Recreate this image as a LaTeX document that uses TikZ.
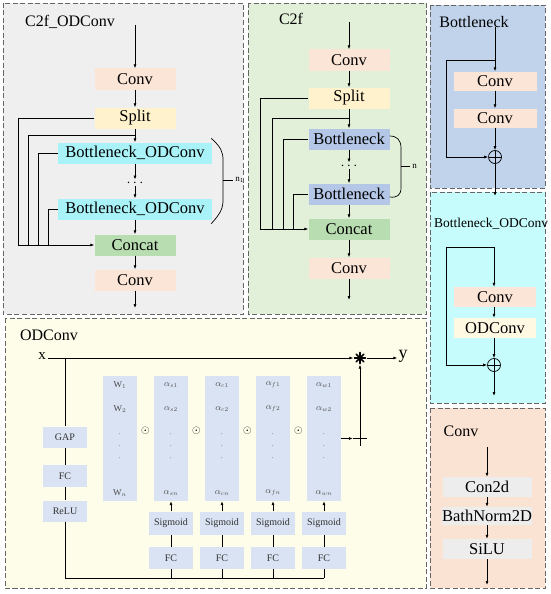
\documentclass[tikz,border=0pt]{standalone}
\usepackage{fontspec}
\setmainfont{Liberation Serif}
\usetikzlibrary{arrows.meta, positioning, calc}

\definecolor{convc}{HTML}{FBE5D6}
\definecolor{splitc}{HTML}{FFF2CC}
\definecolor{bodc}{HTML}{A8F2F8}
\definecolor{catc}{HTML}{B8DDB0}
\definecolor{bneckc}{HTML}{B4C7E7}
\definecolor{odc}{HTML}{FFF9E3}
\definecolor{grayc}{HTML}{EDEDED}
\definecolor{lbluec}{HTML}{DAE3F3}
\definecolor{bgone}{HTML}{EFEFEF}
\definecolor{bgtwo}{HTML}{E2F0D9}
\definecolor{bgthree}{HTML}{C0D3EB}
\definecolor{bgfour}{HTML}{C6FCFC}
\definecolor{bgfive}{HTML}{FDFDEA}
\definecolor{bgsix}{HTML}{FBE3D4}

\begin{document}
\begin{tikzpicture}[x=1pt, y=-1pt,
    panel/.style={draw=black!60, dash pattern=on 5pt off 2.5pt, line width=0.9pt},
    title/.style={font=\fontsize{16}{16}\selectfont, inner sep=1pt},
    blk/.style={minimum width=81pt, minimum height=21pt, inner sep=0pt,
                font=\fontsize{16.5}{16.5}\selectfont},
    sblk/.style={fill=lbluec, minimum width=44pt, minimum height=22pt,
                 inner sep=0pt, font=\fontsize{10}{10}\selectfont, text=black!80},
    col/.style={fill=lbluec, minimum width=34pt, minimum height=125pt, inner sep=0pt},
    ent/.style={font=\fontsize{9}{9}\selectfont, text=black!70, inner sep=0pt},
    dotn/.style={font=\fontsize{15}{15}\selectfont, inner sep=0pt, minimum height=6pt},
    sumc/.style={circle, draw, line width=0.7pt, minimum size=13pt, inner sep=0pt,
                 path picture={\draw[line width=0.7pt]
                   (path picture bounding box.north) -- (path picture bounding box.south)
                   (path picture bounding box.west) -- (path picture bounding box.east);}},
    plusn/.style={minimum size=14pt, inner sep=0pt,
                  path picture={\draw[line width=1pt]
                   (path picture bounding box.north) -- (path picture bounding box.south)
                   (path picture bounding box.west) -- (path picture bounding box.east);}},
    starn/.style={minimum size=13pt, inner sep=0pt,
                  path picture={\foreach \a in {0,45,...,135}
                    \draw[line width=1.7pt, line cap=round]
                      (path picture bounding box.center) ++(\a:5.5pt) -- ++(\a+180:11pt);}},
    arr/.style={-{Latex[length=4pt,width=3pt]}, line width=0.7pt},
    ln/.style={line width=0.7pt}
  ]
  \useasboundingbox (0,0) rectangle (550,594);

  % panels
  \draw[panel, fill=bgone] (3,3) rectangle (243,314);
  \draw[panel, fill=bgtwo] (248,3) rectangle (426,314);
  \draw[panel, fill=bgthree] (430,5) rectangle (545,188);
  \draw[panel, fill=bgfour] (430,192) rectangle (545,403);
  \draw[panel, fill=bgfive] (5,318) rectangle (426,588);
  \draw[panel, fill=bgsix] (430,408) rectangle (545,588);

  % C2f_ODConv
  \node[title] (t1) at (70,22) {C2f\_ODConv};
  \coordinate (a0) at (135,25);
  \node[blk, fill=convc] (a1) at (135,79) {Conv};
  \node[blk, fill=splitc] (a2) at (135,118) {Split};
  \node[blk, fill=bodc, minimum width=154pt] (a3) at (135,153) {Bottleneck\_ODConv};
  \node[dotn] (ad) at (135,183) {$\cdots$};
  \node[blk, fill=bodc, minimum width=154pt] (a4) at (135,209) {Bottleneck\_ODConv};
  \node[blk, fill=catc] (a5) at (135,245) {Concat};
  \node[blk, fill=convc] (a6) at (135,280) {Conv};
  \coordinate (a7) at (135,308);
  \coordinate (aj) at ($(a2.south)!0.5!(a3.north)$);
  \draw[arr] (a0) -- (a1);
  \draw[arr] (a1) -- (a2);
  \draw[arr] (a2) -- (a3);
  \draw[arr] (a3) -- (ad);
  \draw[arr] (ad) -- (a4);
  \draw[arr] (a4) -- (a5);
  \draw[arr] (a5) -- (a6);
  \draw[arr] (a6) -- (a7);
  \coordinate (ab1) at (18,245);
  \coordinate (ab2) at (28,245);
  \coordinate (ab3) at (38,245);
  \coordinate (ab4) at (48,245);
  \draw[arr] (a2.west) -| (ab1) -- (a5.west);
  \draw[ln] (aj) -| (ab2);
  \draw[ln] (a3.west) -| (ab3);
  \draw[ln] (a4.west) -| (ab4);
  \draw[ln] ($(a3.north east)+(-1,-4)$) .. controls (221,147) and (223,152) .. (223,160)
    -- (223,200) .. controls (223,208) and (221,213) .. ($(a4.south east)+(-1,4)$);
  \draw[ln] (223,180) -- (233,180) node[right, inner sep=2pt, font=\fontsize{9}{9}\selectfont] {n$_1$};

  % C2f
  \node[title] (t2) at (291,19) {C2f};
  \coordinate (b0) at (349,22);
  \node[blk, fill=convc] (b1) at (349,60) {Conv};
  \node[blk, fill=splitc] (b2) at (349,98) {Split};
  \node[blk, fill=bneckc] (b3) at (349,139) {Bottleneck};
  \node[dotn] (bd) at (349,166) {$\cdots$};
  \node[blk, fill=bneckc] (b4) at (349,194) {Bottleneck};
  \node[blk, fill=catc] (b5) at (349,229) {Concat};
  \node[blk, fill=convc] (b6) at (349,268) {Conv};
  \coordinate (b7) at (349,300);
  \coordinate (bj) at ($(b2.south)!0.5!(b3.north)$);
  \draw[arr] (b0) -- (b1);
  \draw[arr] (b1) -- (b2);
  \draw[arr] (b2) -- (b3);
  \draw[arr] (b3) -- (bd);
  \draw[arr] (bd) -- (b4);
  \draw[arr] (b4) -- (b5);
  \draw[arr] (b5) -- (b6);
  \draw[arr] (b6) -- (b7);
  \coordinate (bb1) at (260,229);
  \coordinate (bb2) at (272,229);
  \coordinate (bb3) at (283,229);
  \coordinate (bb4) at (293,229);
  \draw[arr] (b2.west) -| (bb1) -- (b5.west);
  \draw[ln] (bj) -| (bb2);
  \draw[ln] (b3.west) -| (bb3);
  \draw[ln] (b4.west) -| (bb4);
  \draw[ln] ($(b3.east)+(0,-3)$) .. controls (397,136) and (401,140) .. (401,148)
    -- (401,188) .. controls (401,195) and (397,198) .. ($(b4.east)+(0,3)$);
  \draw[ln] (401,166) -- (410,166) node[right, inner sep=2pt, font=\fontsize{9}{9}\selectfont] {n};

  % Bottleneck
  \node[title] (t3) at (474,22) {Bottleneck};
  \coordinate (c0) at (495,27);
  \node[blk, fill=convc, minimum width=83pt, minimum height=19pt] (c1) at (495,81) {Conv};
  \node[blk, fill=convc, minimum width=83pt, minimum height=19pt] (c2) at (495,118) {Conv};
  \node[sumc] (c3) at (495,157) {};
  \coordinate (c4) at (495,196);
  \coordinate (cj) at (495,60);
  \coordinate (cl) at (446,157);
  \draw[arr] (c0) -- (c1);
  \draw[arr] (c1) -- (c2);
  \draw[arr] (c2) -- (c3);
  \draw[arr] (c3) -- (c4);
  \draw[arr] (cj) -| (cl) -- (c3.west);

  % Bottleneck_ODConv
  \node[title, font=\fontsize{13.5}{13.5}\selectfont] (t4) at (491,224) {Bottleneck\_ODConv};
  \coordinate (e0) at (494,247);
  \node[blk, fill=convc, minimum width=82pt, minimum height=20pt] (e1) at (495,297) {Conv};
  \node[blk, fill=odc, minimum width=82pt, minimum height=20pt] (e2) at (495,328) {ODConv};
  \node[sumc] (e3) at (494,365) {};
  \coordinate (e4) at (494,396);
  \coordinate (el) at (446,365);
  \draw[arr] (e0) -- (e1.north -| e0);
  \draw[arr] (e1.south -| e0) -- (e2.north -| e0);
  \draw[arr] (e2.south -| e0) -- (e3);
  \draw[arr] (e3) -- (e4);
  \draw[arr] (e0) -- (446,247) -- (el) -- (e3.west);

  % Conv
  \node[title] (t6) at (461,431) {Conv};
  \coordinate (g0) at (487,447);
  \node[blk, fill=grayc, minimum width=89pt, minimum height=20pt] (g1) at (487,487) {Con2d};
  \node[blk, fill=grayc, minimum width=89pt, minimum height=18pt] (g2) at (487,516) {BathNorm2D};
  \node[blk, fill=grayc, minimum width=89pt, minimum height=20pt] (g3) at (487,549) {SiLU};
  \coordinate (g4) at (487,585);
  \draw[arr] (g0) -- (g1);
  \draw[arr] (g1) -- (g2);
  \draw[arr] (g2) -- (g3);
  \draw[arr] (g3) -- (g4);

  % ODConv
  \node[title] (t5) at (49,335) {ODConv};
  \node[font=\fontsize{15}{15}\selectfont, inner sep=2pt] (xn) at (42,356) {x};
  \node[starn] (st) at (360,358) {};
  \node[font=\fontsize{18}{18}\selectfont, inner sep=1pt] (yn) at (403,356) {y};
  \draw[arr] (xn.east |- st) -- (st.west);
  \draw[arr] (st.east) -- (yn.west |- st);
  \coordinate (xj) at (65,358);
  \node[sblk, minimum height=21pt] (h1) at (65,437) {GAP};
  \node[sblk] (h2) at (65,476) {FC};
  \node[sblk, minimum height=21pt] (h3) at (65,511) {ReLU};
  \coordinate (bl) at (65,578);
  \draw[ln] (xj) -- (h1);
  \draw[ln] (h1) -- (h2);
  \draw[ln] (h2) -- (h3);
  \foreach \i/\b/\t in {0/\mathrm{W}/, 1/\alpha/s, 2/\alpha/c, 3/\alpha/f, 4/\alpha/w} {
    \node[col] (k\i) at (120+51*\i,438.5) {};
    \node[ent] at (120+51*\i,385) {$\b_{\t1}$};
    \node[ent] at (120+51*\i,409) {$\b_{\t2}$};
    \foreach \y in {434,446,458}
      \node[ent] at (120+51*\i,\y) {$\cdot$};
    \node[ent] at (120+51*\i,493) {$\b_{\t n}$};
  }
  \foreach \i in {1,...,4} {
    \node[font=\fontsize{11}{11}\selectfont, inner sep=0pt] (o\i) at (94.5+51*\i,431) {$\odot$};
    \node[sblk, minimum height=23pt] (m\i) at (120+51*\i,523) {Sigmoid};
    \node[sblk] (f\i) at (120+51*\i,558) {FC};
    \draw[arr] (m\i) -- (k\i);
    \draw[ln] (f\i) -- (m\i);
    \draw[ln] (f\i.south) -- (f\i.south |- bl);
  }
  \draw[ln] (h3.south) -- (bl) -- (bl -| f4.south);
  \node[plusn] (pl) at (360,438.5) {};
  \draw[arr] (k4.east) -- (pl.west);
  \draw[arr] (pl.center) -- (st.south);
\end{tikzpicture}
\end{document}
